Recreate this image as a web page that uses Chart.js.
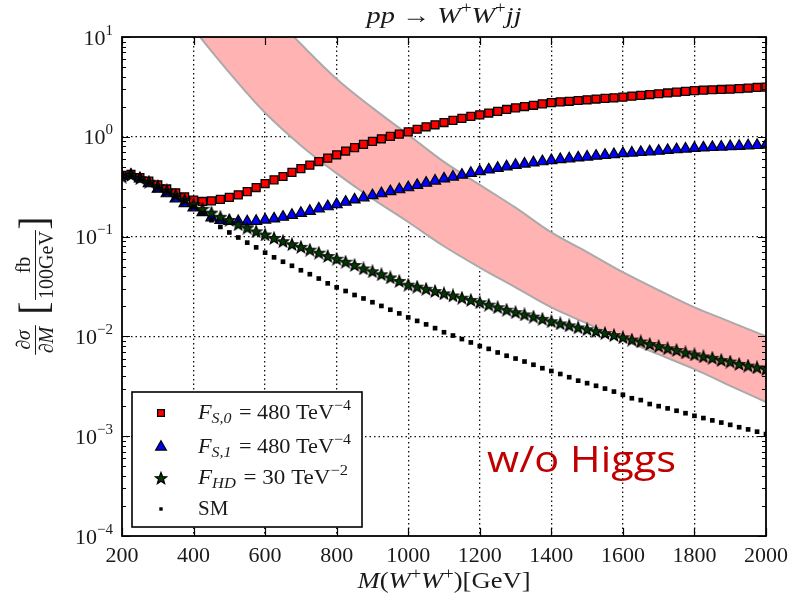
<!DOCTYPE html>
<html>
<head>
<meta charset="utf-8">
<script src="https://cdn.jsdelivr.net/npm/chart.js@4"></script>
<style>
html,body{margin:0;padding:0;background:#fff;}
canvas{display:block;}
</style>
</head>
<body>
<canvas id="c" width="796" height="600" style="width:796px;height:600px"></canvas>
<script>
// ---------------- data ----------------
const mass = [200,225,250,275,300,325,350,375,400,425,450,475,500,525,550,575,600,625,650,675,700,725,750,775,800,825,850,875,900,925,950,975,1000,1025,1050,1075,1100,1125,1150,1175,1200,1225,1250,1275,1300,1325,1350,1375,1400,1425,1450,1475,1500,1525,1550,1575,1600,1625,1650,1675,1700,1725,1750,1775,1800,1825,1850,1875,1900,1925,1950,1975,2000];

const fs0 = [0.41,0.42,0.39,0.36,0.33,0.30,0.275,0.25,0.232,0.225,0.228,0.236,0.247,0.262,0.282,0.31,0.34,0.37,0.40,0.44,0.48,0.52,0.565,0.61,0.66,0.72,0.78,0.84,0.90,0.955,1.01,1.065,1.12,1.19,1.26,1.32,1.39,1.46,1.53,1.6,1.66,1.73,1.8,1.88,1.95,2.01,2.07,2.14,2.2,2.24,2.27,2.31,2.35,2.39,2.43,2.46,2.5,2.55,2.6,2.65,2.7,2.75,2.8,2.85,2.9,2.93,2.96,2.98,3.0,3.04,3.08,3.12,3.15];

const fs1 = [0.40,0.415,0.38,0.34,0.30,0.27,0.24,0.215,0.195,0.175,0.155,0.146,0.143,0.142,0.141,0.143,0.147,0.151,0.157,0.164,0.172,0.18,0.19,0.20,0.21,0.222,0.234,0.246,0.258,0.27,0.283,0.296,0.31,0.327,0.344,0.362,0.38,0.397,0.414,0.432,0.45,0.467,0.485,0.502,0.52,0.535,0.55,0.565,0.58,0.593,0.605,0.617,0.63,0.642,0.655,0.667,0.68,0.69,0.70,0.71,0.72,0.733,0.745,0.757,0.77,0.777,0.785,0.792,0.80,0.807,0.815,0.822,0.83];

const fhd = [0.40,0.415,0.385,0.355,0.32,0.29,0.262,0.235,0.21,0.19,0.174,0.158,0.147,0.133,0.123,0.113,0.105,0.097,0.09,0.084,0.079,0.074,0.069,0.064,0.06,0.056,0.052,0.048,0.045,0.042,0.039,0.036,0.033,0.0315,0.030,0.0285,0.027,0.0257,0.0244,0.0232,0.022,0.0208,0.0196,0.0185,0.0175,0.0166,0.0158,0.015,0.0142,0.0135,0.0129,0.0123,0.0118,0.0113,0.0108,0.0103,0.0098,0.0093,0.0089,0.0084,0.008,0.0076,0.0073,0.0069,0.0066,0.0063,0.0061,0.0058,0.0056,0.0053,0.0051,0.0049,0.0047];

const sm = [0.40,0.41,0.38,0.35,0.315,0.285,0.255,0.228,0.20,0.172,0.146,0.125,0.11,0.098,0.087,0.078,0.069,0.062,0.056,0.051,0.046,0.042,0.038,0.034,0.031,0.0285,0.026,0.024,0.022,0.0202,0.0185,0.017,0.0155,0.0143,0.0132,0.0121,0.011,0.0102,0.0094,0.0087,0.008,0.0075,0.0069,0.0064,0.006,0.0056,0.0052,0.0048,0.0045,0.0042,0.0039,0.0036,0.0034,0.0032,0.0030,0.0028,0.0026,0.0024,0.0023,0.0021,0.0020,0.0019,0.0018,0.0017,0.0016,0.00152,0.00144,0.00137,0.0013,0.00123,0.00117,0.00111,0.00105];

const bandMass  = [400,500,600,700,800,900,1000,1100,1200,1300,1400,1500,1600,1700,1800,1900,2000];
const bandUpper = [110,48,20,8.5,3.8,1.95,1.05,0.56,0.33,0.195,0.11,0.07,0.044,0.029,0.0195,0.014,0.010];
const bandLower = [12,4.4,1.74,0.82,0.43,0.24,0.14,0.08,0.049,0.031,0.0195,0.0135,0.0093,0.0066,0.0047,0.0032,0.0022];

const xTicks = [200,400,600,800,1000,1200,1400,1600,1800,2000];
const yExponents = [-4,-3,-2,-1,0,1];

// ---------------- helpers ----------------
const SERIF = '"Liberation Serif", "DejaVu Serif", serif';
const TXT = '#1a1a1a';

function makeStar(){
  const c = document.createElement('canvas');
  c.width = 14; c.height = 14;
  const g = c.getContext('2d');
  g.beginPath();
  for (let i = 0; i < 10; i++) {
    const r = (i % 2) ? 2.6 : 6.2;
    const a = -Math.PI/2 + i*Math.PI/5;
    g.lineTo(7 + r*Math.cos(a), 7.6 + r*Math.sin(a));
  }
  g.closePath();
  g.fillStyle = '#003a00'; g.fill();
  g.lineWidth = 1.2; g.strokeStyle = '#000'; g.stroke();
  return c;
}
const starImg = makeStar();

function fontOf(r){ return (r.it ? 'italic ' : '') + r.size + 'px ' + SERIF; }
// draws a run of mixed-style text; optional target width stretches it horizontally
function drawRuns(ctx, runs, x, y, align, target){
  let total = 0;
  runs.forEach(r => { ctx.font = fontOf(r); r.w = ctx.measureText(r.t).width; total += r.w + (r.gap||0); });
  const sx = target ? target / total : 1;
  const W = total * sx;
  const x0 = align === 'center' ? x - W/2 : (align === 'right' ? x - W : x);
  ctx.save();
  ctx.translate(x0, y);
  ctx.scale(sx, 1);
  ctx.textAlign = 'left';
  ctx.textBaseline = 'alphabetic';
  let cx = 0;
  runs.forEach(r => { ctx.font = fontOf(r); ctx.fillText(r.t, cx, (r.dy||0)); cx += r.w + (r.gap||0); });
  ctx.restore();
  return W;
}

const toXY = (xs, ys) => xs.map((m,i) => ({x:m, y:ys[i]}));

const markerStyles = [
  {pointStyle:'rect', radius:5.6, borderWidth:1.3, backgroundColor:'#ff0000', borderColor:'#000'},
  {pointStyle:'triangle', radius:6.4, borderWidth:1.2, backgroundColor:'#0000ff', borderColor:'#000'},
  {pointStyle:starImg, radius:6, borderWidth:0, backgroundColor:'#003a00', borderColor:'#000'},
  {pointStyle:'rect', radius:3.3, borderWidth:0, backgroundColor:'#000', borderColor:'#000'}
];

function pointDs(label, ys, st, order){
  return {
    label, data: toXY(mass, ys), showLine:false, order,
    pointStyle: st.pointStyle, pointRadius: st.radius, pointBorderWidth: st.borderWidth,
    pointBackgroundColor: st.backgroundColor, pointBorderColor: st.borderColor,
    pointHoverRadius: st.radius, borderWidth:0
  };
}

// ---------------- decoration plugin ----------------
const deco = {
  id:'deco',
  afterDatasetsDraw(chart){
    const ctx = chart.ctx, a = chart.chartArea;
    const xs = chart.scales.x, ys = chart.scales.y;
    ctx.save();
    // inward ticks
    ctx.strokeStyle = '#000'; ctx.lineWidth = 1.2;
    ctx.beginPath();
    xTicks.forEach(v => {
      const px = Math.round(xs.getPixelForValue(v)) + 0.5;
      ctx.moveTo(px, a.bottom); ctx.lineTo(px, a.bottom - 8);
      ctx.moveTo(px, a.top); ctx.lineTo(px, a.top + 8);
    });
    yExponents.forEach(e => {
      const py = Math.round(ys.getPixelForValue(Math.pow(10,e))) + 0.5;
      ctx.moveTo(a.left, py); ctx.lineTo(a.left + 8, py);
      ctx.moveTo(a.right, py); ctx.lineTo(a.right - 8, py);
      if (e < 1) {
        for (let k = 2; k <= 9; k++) {
          const pm = Math.round(ys.getPixelForValue(k*Math.pow(10,e))) + 0.5;
          ctx.moveTo(a.left, pm); ctx.lineTo(a.left + 4, pm);
          ctx.moveTo(a.right, pm); ctx.lineTo(a.right - 4, pm);
        }
      }
    });
    ctx.stroke();
    // frame
    ctx.lineWidth = 1.8;
    ctx.strokeRect(a.left, a.top, a.right - a.left, a.bottom - a.top);

    // legend box
    const lx = 132, ly = 392, lw = 230, lh = 135;
    ctx.fillStyle = '#fff';
    ctx.fillRect(lx, ly, lw, lh);
    ctx.lineWidth = 1.6; ctx.strokeStyle = '#000';
    ctx.strokeRect(lx, ly, lw, lh);
    const rowsY = [413, 447, 478, 509];
    const legendRuns = [
      [{t:'F',it:1,size:21},{t:'S,0',it:1,size:15,dy:4,gap:7},{t:'= 480 TeV',size:21},{t:'\u22124',size:15,dy:-9}],
      [{t:'F',it:1,size:21},{t:'S,1',it:1,size:15,dy:4,gap:7},{t:'= 480 TeV',size:21},{t:'\u22124',size:15,dy:-9}],
      [{t:'F',it:1,size:21},{t:'HD',it:1,size:15,dy:4,gap:7},{t:'= 30 TeV',size:21},{t:'\u22122',size:15,dy:-9}],
      [{t:'SM',size:21}]
    ];
    const legendWidths = [153, 153, 150, 0];
    rowsY.forEach((yy, i) => {
      const st = markerStyles[i];
      const r = i === 0 ? 4.8 : (i === 1 ? 6.2 : st.radius);
      ctx.save();
      ctx.fillStyle = st.backgroundColor; ctx.strokeStyle = st.borderColor; ctx.lineWidth = st.borderWidth;
      Chart.helpers.drawPoint(ctx, {pointStyle: st.pointStyle, radius: i===3?2.4:r, borderWidth: st.borderWidth, rotation:0}, 161, yy);
      ctx.restore();
      ctx.fillStyle = TXT;
      drawRuns(ctx, legendRuns[i], 198, yy + 6, 'left', legendWidths[i] || undefined);
    });
    ctx.restore();
  },
  afterDraw(chart){
    const ctx = chart.ctx;
    const ys = chart.scales.y;
    ctx.save();
    ctx.fillStyle = TXT;
    // y tick labels
    yExponents.forEach(e => {
      const py = ys.getPixelForValue(Math.pow(10,e));
      const ex = e < 0 ? '\u2212' + Math.abs(e) : String(e);
      drawRuns(ctx, [{t:'10',size:22},{t:ex,size:15,dy:-10}], 113, py + 7.5, 'right');
    });
    // title
    drawRuns(ctx, [{t:'pp',it:1,size:24},{t:' \u2192 ',size:24},{t:'W',it:1,size:24},{t:'+',size:16,dy:-10},{t:'W',it:1,size:24},{t:'+',size:16,dy:-10},{t:'jj',it:1,size:24}], 444, 23, 'center', 155);
    // x label
    drawRuns(ctx, [{t:'M',it:1,size:23},{t:'(',size:23},{t:'W',it:1,size:23},{t:'+',size:16,dy:-9},{t:'W',it:1,size:23},{t:'+',size:16,dy:-9},{t:')[GeV]',size:23}], 444, 588, 'center', 173);

    // y label (rotated)
    ctx.save();
    ctx.translate(35, 357);
    ctx.rotate(-Math.PI/2);
    ctx.textBaseline = 'alphabetic';
    ctx.textAlign = 'center';
    ctx.strokeStyle = TXT; ctx.lineWidth = 1;
    ctx.font = 'italic 20px ' + SERIF;
    const c1 = 17;
    const bar1 = Math.max(ctx.measureText('\u2202\u03c3').width, ctx.measureText('\u2202M').width) + 3;
    ctx.fillText('\u2202\u03c3', c1, -5);
    ctx.fillText('\u2202M', c1, 18);
    ctx.beginPath(); ctx.moveTo(c1 - bar1/2, 0.5); ctx.lineTo(c1 + bar1/2, 0.5); ctx.stroke();
    ctx.font = '40px ' + SERIF;
    ctx.fillText('[', 49, 12);
    ctx.font = '20px ' + SERIF;
    const wDen2 = ctx.measureText('100GeV').width;
    const c2 = 92;
    ctx.fillText('fb', c2, -5);
    ctx.fillText('100GeV', c2, 18);
    ctx.beginPath(); ctx.moveTo(c2 - wDen2/2 - 1, 0.5); ctx.lineTo(c2 + wDen2/2 + 1, 0.5); ctx.stroke();
    ctx.font = '40px ' + SERIF;
    ctx.fillText(']', 134, 12);
    ctx.restore();

    // annotation
    ctx.save();
    ctx.fillStyle = '#c00000';
    ctx.font = '37px "Open Sans", "Noto Sans", sans-serif';
    ctx.textAlign = 'left'; ctx.textBaseline = 'alphabetic';
    const wt = ctx.measureText('w/o Higgs').width;
    ctx.translate(487, 472);
    ctx.scale(189 / wt, 1);
    ctx.fillText('w/o Higgs', 0, 0);
    ctx.restore();

    ctx.restore();
  }
};

// ---------------- chart ----------------
const gridColor = (c) => (c.tick && (c.tick.value === 200 || c.tick.value === 2000)) ? 'rgba(0,0,0,0)' : '#111';
const yGridColor = (c) => (c.tick && (c.tick.value >= 9.9 || c.tick.value <= 1.01e-4)) ? 'rgba(0,0,0,0)' : '#111';

new Chart(document.getElementById('c').getContext('2d'), {
  type: 'line',
  data: {
    datasets: [
      pointDs('F_S0', fs0, markerStyles[0], 3),
      pointDs('F_S1', fs1, markerStyles[1], 2),
      pointDs('F_HD', fhd, markerStyles[2], 1),
      pointDs('SM', sm, markerStyles[3], 0),
      { label:'band upper', data: toXY(bandMass, bandUpper), order: 10, pointRadius:0, borderColor:'#aaaaaa', borderWidth:2, tension:0.35, fill:false },
      { label:'band lower', data: toXY(bandMass, bandLower), order: 11, pointRadius:0, borderColor:'#aaaaaa', borderWidth:2, tension:0.35, fill:'-1', backgroundColor:'#ffb3b3' }
    ]
  },
  options: {
    responsive:false, animation:false, devicePixelRatio:1,
    layout:{ padding:{ left:0, right:30, top:37, bottom:0 } },
    plugins:{ legend:{display:false}, tooltip:{enabled:false}, title:{display:false} },
    scales:{
      x:{
        type:'linear', min:200, max:2000,
        afterBuildTicks: s => { s.ticks = xTicks.map(v => ({value:v})); },
        afterFit: s => { s.height = 64; },
        ticks:{ font:{family:'Liberation Serif', size:22}, color:TXT, padding:7, maxRotation:0, autoSkip:false, callback: v => String(v) },
        grid:{ color:gridColor, lineWidth:1.3, drawTicks:false },
        border:{ display:false, dash:[1.5,3] }
      },
      y:{
        type:'logarithmic', min:1e-4, max:10,
        afterBuildTicks: s => { s.ticks = yExponents.map(e => ({value:Math.pow(10,e)})); },
        afterFit: s => { s.width = 122; },
        ticks:{ display:false },
        grid:{ color:yGridColor, lineWidth:1.3, drawTicks:false },
        border:{ display:false, dash:[1.5,3] }
      }
    }
  },
  plugins:[deco]
});
</script>
</body>
</html>
